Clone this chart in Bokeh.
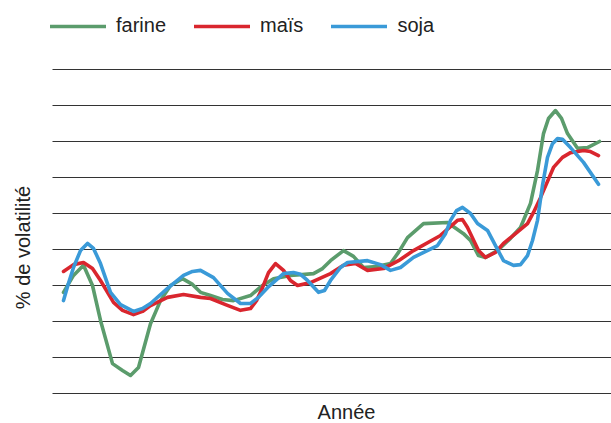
import math
from bokeh.plotting import figure
from bokeh.models import Range1d, Legend, LegendItem, Label
from bokeh.embed import file_html
from bokeh.resources import INLINE

# ---- data ----
series_names = ["farine", "maïs", "soja"]

farine_x = [0, 1.0, 2.0, 2.9, 3.7, 4.9, 5.9, 6.7, 7.5, 8.7, 9.7, 10.7, 11.9, 12.9, 13.7,
            14.7, 15.9, 17.0, 18.7, 19.9, 21.0, 22.7, 25.0, 25.9, 26.7, 28.0, 29.0, 30.0,
            31.3, 32.7, 33.5, 34.4, 36.0, 38.4, 40.0, 40.7, 41.5, 42.2, 43.4, 44.7, 45.7,
            46.7, 47.4, 48.0, 48.5, 49.2, 49.8, 50.4, 51.4, 52.4, 53.6]
farine_y = [2.81, 3.28, 3.56, 3.00, 2.03, 0.83, 0.64, 0.50, 0.72, 1.94,
            2.58, 3.00, 3.19, 3.03, 2.81, 2.72, 2.61, 2.58, 2.72, 3.00,
            3.19, 3.28, 3.33, 3.47, 3.69, 3.97, 3.81, 3.50, 3.53, 3.61,
            3.92, 4.33, 4.72, 4.75, 4.44, 4.25, 3.83, 3.78, 3.97, 4.31,
            4.61, 5.28, 6.19, 7.22, 7.64, 7.86, 7.64, 7.22, 6.81, 6.83,
            7.00]

mais_x = [0, 1.0, 2.0, 2.9, 3.7, 5.0, 5.9, 7.0, 7.9, 8.7,
          10.4, 12.0, 13.7, 14.7, 16.2, 17.7, 18.7, 19.3, 19.9, 20.5,
          21.2, 22.0, 22.7, 23.4, 24.7, 26.7, 28.0, 29.2, 30.4, 32.0,
          33.5, 35.0, 37.7, 39.4, 39.9, 40.4, 41.5, 42.2, 43.2, 44.0,
          45.2, 46.4, 47.0, 47.7, 49.0, 49.9, 50.7, 52.0, 52.7, 53.5]
mais_y = [3.39, 3.58, 3.64, 3.47, 3.14, 2.53, 2.31, 2.19, 2.28, 2.44,
          2.67, 2.75, 2.67, 2.64, 2.47, 2.31, 2.36, 2.58, 2.94, 3.36,
          3.61, 3.42, 3.14, 3.00, 3.08, 3.33, 3.56, 3.61, 3.42, 3.47,
          3.69, 3.97, 4.39, 4.81, 4.83, 4.61, 3.97, 3.78, 3.92, 4.17,
          4.44, 4.72, 5.03, 5.44, 6.28, 6.56, 6.69, 6.75, 6.72, 6.61]

soja_x = [0, 0.5, 1.0, 1.7, 2.4, 3.0, 3.7, 4.7, 5.7, 7.0,
          7.9, 8.7, 10.4, 12.0, 12.9, 13.7, 15.0, 16.4, 17.7, 18.7,
          19.5, 20.4, 22.0, 23.0, 23.7, 24.4, 25.5, 26.1, 26.7, 27.7,
          28.4, 30.4, 31.7, 32.7, 33.7, 35.0, 37.4, 38.2, 38.7, 39.3,
          39.9, 40.7, 41.4, 42.4, 43.2, 44.0, 45.0, 45.7, 46.4, 46.9,
          47.4, 47.9, 48.4, 48.9, 49.4, 49.9, 50.7, 52.0, 53.5]
soja_y = [2.58, 3.06, 3.50, 3.97, 4.17, 4.03, 3.61, 2.81, 2.47, 2.28,
          2.36, 2.50, 2.92, 3.28, 3.39, 3.42, 3.22, 2.78, 2.50, 2.50,
          2.67, 2.94, 3.33, 3.36, 3.31, 3.14, 2.81, 2.86, 3.14, 3.50,
          3.64, 3.69, 3.58, 3.42, 3.50, 3.78, 4.11, 4.44, 4.81, 5.08,
          5.17, 5.00, 4.72, 4.53, 4.11, 3.69, 3.56, 3.58, 3.83, 4.25,
          4.81, 5.78, 6.56, 6.94, 7.08, 7.06, 6.83, 6.42, 5.81]

y_ticks = [0, 1, 2, 3, 4, 5, 6, 7, 8, 9]
x_start, x_end = -1.1, 54.8          # extent of the value area along the years
x_title = "Année"
y_title = "% de volatilité"

colors = ["#5b9c6c", "#d9262e", "#3a9ad8"]
FONT = "Liberation Sans"
TXT = "#222222"

# the frame covers the whole canvas; the ranges leave room for the titles and the legend
p = figure(width=611, height=423, output_backend="svg", toolbar_location=None,
           x_range=Range1d(-6.3, 54.8), y_range=Range1d(-30 / 36, 393 / 36),
           min_border=0)
p.outline_line_color = None
p.background_fill_color = "white"
p.border_fill_color = "white"
p.xaxis.visible = False
p.yaxis.visible = False
p.xgrid.visible = False
p.ygrid.visible = False

# horizontal gridlines over the value area only
p.segment(x0=[x_start] * len(y_ticks), x1=[x_end] * len(y_ticks), y0=y_ticks, y1=y_ticks,
          line_color="#333333", line_width=1)

renderers = []
for xs, ys, c in zip([farine_x, mais_x, soja_x], [farine_y, mais_y, soja_y], colors):
    r = p.line(xs, ys, line_color=c, line_width=3.6, line_join="round", line_cap="round")
    renderers.append(r)

legend = Legend(items=[LegendItem(label=n, renderers=[r]) for n, r in zip(series_names, renderers)],
                orientation="horizontal", location=(50, 386),
                label_text_font=FONT, label_text_font_size="20px", label_text_color=TXT,
                glyph_width=56, glyph_height=20, label_standoff=10, spacing=28,
                padding=0, margin=0, border_line_color=None, background_fill_alpha=0)
p.add_layout(legend, "center")

p.add_layout(Label(x=22, y=176, x_units="screen", y_units="screen", text=y_title,
                   angle=math.pi / 2, text_align="center", text_baseline="middle",
                   text_font=FONT, text_font_size="20px", text_color=TXT))
p.add_layout(Label(x=346, y=12, x_units="screen", y_units="screen", text=x_title,
                   text_align="center", text_baseline="middle",
                   text_font=FONT, text_font_size="20px", text_color=TXT))

open("out.html", "w").write(file_html(p, INLINE))
